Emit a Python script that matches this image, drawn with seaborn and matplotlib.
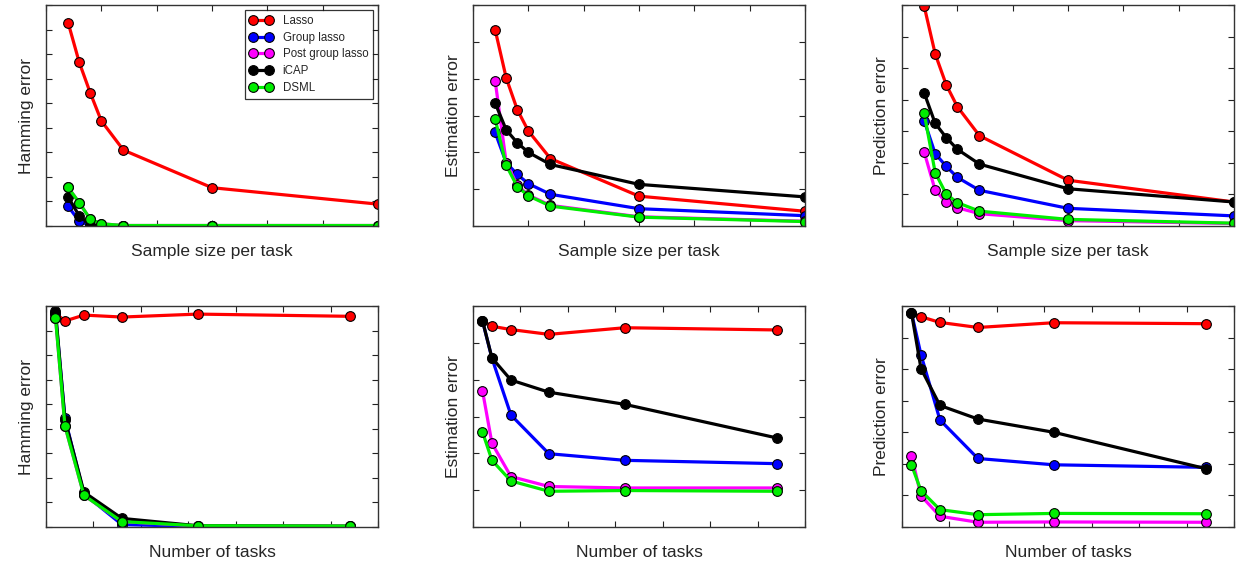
import numpy as np
import pandas as pd
import matplotlib
matplotlib.use('Agg')
import matplotlib.pyplot as plt
import seaborn as sns

# =============================================================================
# DADOS (em unidades de "tick")
# =============================================================================
methods = ['Lasso', 'Group lasso', 'Post group lasso', 'iCAP', 'DSML']
colors = ['#ff0000', '#0000ff', '#ff00ff', '#000000', '#00ee00']

x_samples = [20, 30, 40, 50, 70, 150, 300]
x_tasks = [10, 20, 40, 80, 160, 320]

# linha de cima: tamanho de amostra por tarefa
ham_samples = {
    'Lasso':            [8.28, 6.67, 5.42, 4.28, 3.09, 1.56, 0.89],
    'Group lasso':      [0.80, 0.20, 0.02, 0.01, 0.01, 0.01, 0.01],
    'Post group lasso': [1.57, 0.95, 0.28, 0.09, 0.02, 0.02, 0.02],
    'iCAP':             [1.19, 0.41, 0.05, 0.01, 0.01, 0.01, 0.01],
    'DSML':             [1.57, 0.95, 0.28, 0.09, 0.02, 0.02, 0.02],
}
est_samples = {
    'Lasso':            [5.33, 4.02, 3.16, 2.58, 1.83, 0.81, 0.40],
    'Group lasso':      [2.54, 1.72, 1.40, 1.15, 0.86, 0.47, 0.28],
    'Post group lasso': [3.95, 1.72, 1.11, 0.84, 0.56, 0.25, 0.13],
    'iCAP':             [3.34, 2.61, 2.26, 2.00, 1.67, 1.13, 0.79],
    'DSML':             [2.91, 1.65, 1.07, 0.82, 0.54, 0.24, 0.12],
}
pred_samples = {
    'Lasso':            [6.97, 5.45, 4.47, 3.78, 2.86, 1.45, 0.76],
    'Group lasso':      [3.34, 2.29, 1.89, 1.54, 1.13, 0.56, 0.32],
    'Post group lasso': [2.35, 1.13, 0.75, 0.58, 0.39, 0.17, 0.08],
    'iCAP':             [4.22, 3.25, 2.80, 2.43, 1.96, 1.18, 0.76],
    'DSML':             [3.58, 1.69, 1.01, 0.74, 0.47, 0.21, 0.09],
}

# linha de baixo: número de tarefas
ham_tasks = {
    'Lasso':            [8.70, 8.39, 8.63, 8.55, 8.67, 8.58],
    'Group lasso':      [8.69, 4.42, 1.35, 0.10, 0.02, 0.02],
    'Post group lasso': [8.53, 4.11, 1.29, 0.22, 0.05, 0.04],
    'iCAP':             [8.80, 4.36, 1.42, 0.35, 0.05, 0.03],
    'DSML':             [8.53, 4.11, 1.29, 0.22, 0.05, 0.04],
}
est_tasks = {
    'Lasso':            [5.60, 5.45, 5.36, 5.23, 5.41, 5.35],
    'Group lasso':      [5.60, 4.58, 3.04, 1.99, 1.81, 1.72],
    'Post group lasso': [3.70, 2.27, 1.37, 1.10, 1.06, 1.06],
    'iCAP':             [5.60, 4.59, 3.99, 3.66, 3.33, 2.42],
    'DSML':             [2.58, 1.81, 1.25, 0.97, 0.99, 0.97],
}
pred_tasks = {
    'Lasso':            [6.79, 6.66, 6.48, 6.32, 6.47, 6.44],
    'Group lasso':      [6.79, 5.46, 3.39, 2.17, 1.97, 1.89],
    'Post group lasso': [2.26, 0.99, 0.34, 0.15, 0.16, 0.15],
    'iCAP':             [6.79, 5.02, 3.85, 3.42, 3.00, 1.85],
    'DSML':             [1.97, 1.15, 0.55, 0.39, 0.43, 0.42],
}

panels = [
    (x_samples, ham_samples, 'Hamming error', 'Sample size per task', 300, 9),
    (x_samples, est_samples, 'Estimation error', 'Sample size per task', 300, 6),
    (x_samples, pred_samples, 'Prediction error', 'Sample size per task', 300, 7),
    (x_tasks, ham_tasks, 'Hamming error', 'Number of tasks', 350, 9),
    (x_tasks, est_tasks, 'Estimation error', 'Number of tasks', 350, 6),
    (x_tasks, pred_tasks, 'Prediction error', 'Number of tasks', 350, 7),
]

# =============================================================================
# FIGURA
# =============================================================================
sns.set_style('white')
plt.rcParams['font.family'] = ['Liberation Sans', 'DejaVu Sans']

fig = plt.figure(figsize=(12.38, 5.64), dpi=100)
lefts = [46 / 1238, 473 / 1238, 902 / 1238]
bottoms = [1 - 226 / 564, 1 - 527 / 564]
w, h = 332 / 1238, 221 / 564

for i, (xs, data, ylab, xlab, xmax, ymax) in enumerate(panels):
    ax = fig.add_axes([lefts[i % 3], bottoms[i // 3], w, h])
    for m, c in zip(methods, colors):
        df = pd.DataFrame({'x': xs, 'y': data[m]})
        sns.lineplot(data=df, x='x', y='y', ax=ax, color=c, lw=2.3,
                     marker='o', markersize=7, markeredgecolor='black',
                     markeredgewidth=0.8, label=m, clip_on=True)
    ax.set_xlim(0, xmax)
    ax.set_ylim(0, ymax)
    ax.set_xticks(np.arange(0, xmax + 1, 50))
    ax.set_yticks(np.arange(0, ymax + 1, 1))
    ax.tick_params(direction='in', length=4, width=0.8, color='#222222',
                   top=True, right=True, bottom=True, left=True,
                   labelbottom=False, labelleft=False)
    for s in ax.spines.values():
        s.set_color('#333333')
        s.set_linewidth(1.0)
    ax.set_ylabel(ylab, fontsize=12.5, labelpad=9)
    ax.set_xlabel(xlab, fontsize=12.5, labelpad=13)
    if i == 0:
        leg = ax.legend(loc='upper right', fontsize=8.3, numpoints=2,
                        frameon=True, fancybox=False, handlelength=2.0,
                        handletextpad=0.9, borderaxespad=0.45,
                        labelspacing=0.42, borderpad=0.4)
        leg.get_frame().set_edgecolor('black')
        leg.get_frame().set_linewidth(0.9)
    else:
        ax.get_legend().remove()

plt.savefig('out.png', dpi=100)
plt.close()
